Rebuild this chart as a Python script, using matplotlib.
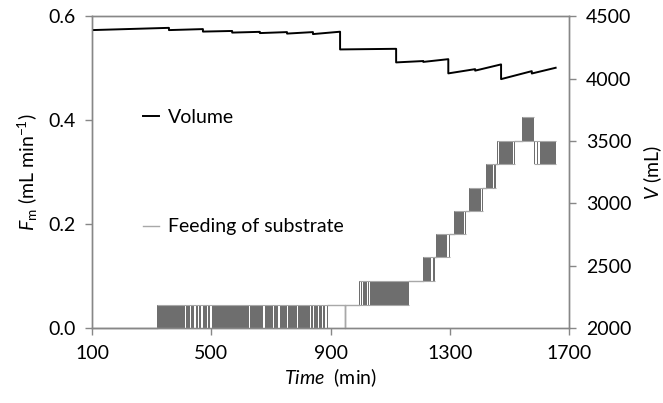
import numpy as np
import matplotlib
matplotlib.use("Agg")
import matplotlib.pyplot as plt
from matplotlib.lines import Line2D

plt.rcParams['font.family'] = ['Lato', 'DejaVu Sans']
plt.rcParams['mathtext.fontset'] = 'custom'
plt.rcParams['mathtext.rm'] = 'Lato'
plt.rcParams['mathtext.it'] = 'Lato:italic'
plt.rcParams['font.size'] = 14

# volume of the reactor (mL), drops = sampling
vol_t = [100, 358, 358, 472, 472, 570, 570, 663, 663, 754, 754, 841, 841, 932, 932,
         1120, 1120, 1211, 1211, 1295, 1295, 1385, 1385, 1472, 1472, 1575, 1575, 1655]
vol_v = [4388, 4406, 4388, 4396, 4376, 4381, 4368, 4374, 4364, 4372, 4360, 4372, 4356, 4375, 4233,
         4238, 4129, 4140, 4133, 4155, 4041, 4075, 4063, 4113, 3995, 4059, 4040, 4086]

# feeding pump: periods where the rate toggles between two levels
blk_start = [317, 996, 1210, 1254, 1314, 1365, 1422, 1459, 1542, 1583]
blk_end = [893, 1163, 1250, 1301, 1355, 1412, 1455, 1519, 1583, 1656]
blk_low = [0.0, 0.045, 0.090, 0.136, 0.180, 0.225, 0.270, 0.315, 0.360, 0.315]
blk_high = [0.045, 0.090, 0.136, 0.180, 0.225, 0.270, 0.315, 0.360, 0.405, 0.360]

# longer pauses inside the toggling periods (white stripes)
gap_start = [412, 428, 443, 456, 467, 484, 496, 628, 675, 707, 724, 755, 786, 831, 841, 857, 870, 881,
             999, 1006, 1014, 1022, 1030, 1238, 1291, 1346, 1404, 1445, 1461, 1513, 1545, 1587, 1597]
gap_end = [416, 432, 449, 460, 473, 488, 503, 631, 679, 712, 729, 758, 791, 836, 846, 860, 874, 888,
           1002, 1009, 1017, 1025, 1033, 1242, 1297, 1351, 1408, 1448, 1465, 1517, 1547, 1591, 1601]

# constant-rate parts of the feeding signal
feed_t = [100, 317, np.nan, 893, 949, 949, 949, 996, np.nan, 1163, 1210, np.nan, 1250, 1254, np.nan,
          1301, 1314, np.nan, 1355, 1365, np.nan, 1412, 1422, np.nan, 1455, 1459, np.nan, 1519, 1542]
feed_v = [0.0, 0.0, np.nan, 0.045, 0.045, 0.0, 0.045, 0.045, np.nan, 0.090, 0.090, np.nan, 0.136, 0.136, np.nan,
          0.180, 0.180, np.nan, 0.225, 0.225, np.nan, 0.270, 0.270, np.nan, 0.315, 0.315, np.nan, 0.360, 0.360]

dark = '#6e6e6e'
light = '#a8a8a8'
spine = '#878787'

fig = plt.figure(figsize=(6.63, 4.03), dpi=100)
ax = fig.add_axes([0.1388, 0.186, 0.7195, 0.774])
ax2 = ax.twinx()

bs = np.array(blk_start)
be = np.array(blk_end)
bl = np.array(blk_low)
bh = np.array(blk_high)
ax.bar(bs, bh - bl, width=be - bs, bottom=bl, align='edge', color=dark, linewidth=0, zorder=2)

gs = np.array(gap_start)
ge = np.array(gap_end)
idx = np.searchsorted(bs, gs, side='right') - 1
ax.bar(gs, bh[idx] - bl[idx], width=ge - gs, bottom=bl[idx], align='edge', color='white',
       linewidth=0, zorder=3)
ax.hlines(bl, bs, be, color=light, lw=0.8, zorder=4)
ax.hlines(bh, bs, be, color=light, lw=0.8, zorder=4)
ax.plot(feed_t, feed_v, color=light, lw=1.0, zorder=4, clip_on=False)

ax2.plot(vol_t, vol_v, color='black', lw=1.4)

ax.set_xlim(100, 1700)
ax.set_ylim(0, 0.6)
ax.set_xticks([100, 500, 900, 1300, 1700])
ax.set_yticks([0, 0.2, 0.4, 0.6])
ax.set_yticklabels(['0.0', '0.2', '0.4', '0.6'])
ax2.set_ylim(2000, 4500)
ax2.set_yticks([2000, 2500, 3000, 3500, 4000, 4500])

for a in (ax, ax2):
    for s in a.spines.values():
        s.set_color(spine)
        s.set_linewidth(1.0)
    a.tick_params(direction='out', length=5, width=1, color=spine, labelsize=14, pad=7)

ax.set_xlabel(r'$\mathit{Time}$  (min)', fontsize=14, labelpad=3)
ax.set_ylabel(r'$F_{\mathrm{m}}$ (mL min$^{-1}$)', fontsize=14, labelpad=6)
ax2.set_ylabel(r'$V$ (mL)', fontsize=14, labelpad=7)

leg1 = ax.legend([Line2D([], [], color='black', lw=1.4)], ['Volume'], loc='center left',
                 bbox_to_anchor=(0.107, 0.676), frameon=False, borderpad=0, borderaxespad=0,
                 handlelength=0.8, handletextpad=0.5, fontsize=14)
ax.add_artist(leg1)
ax.legend([Line2D([], [], color=light, lw=1.0)], ['Feeding of substrate'], loc='center left',
          bbox_to_anchor=(0.107, 0.324), frameon=False, borderpad=0, borderaxespad=0,
          handlelength=0.8, handletextpad=0.5, fontsize=14)

fig.savefig('out.png', dpi=100)
